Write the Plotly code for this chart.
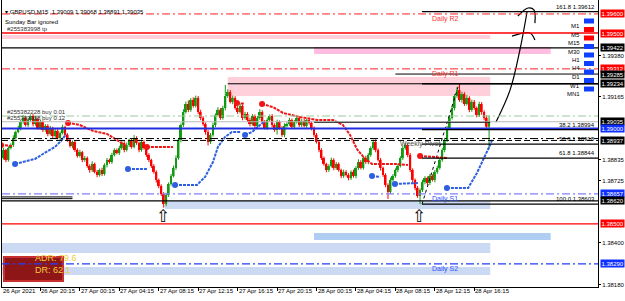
import plotly.graph_objects as go

# ---------------- data ----------------
TITLE = "GBPUSD,M15  1.39009 1.39068 1.38891 1.39035"
XTICK_BARS = [0, 16, 32, 48, 64, 80, 96, 112, 128, 144, 160, 176, 192]
XTICK_LABELS = ["26 Apr 2021", "26 Apr 20:15", "27 Apr 00:15", "27 Apr 04:15", "27 Apr 08:15",
                "27 Apr 12:15", "27 Apr 16:15", "27 Apr 20:15", "28 Apr 00:15", "28 Apr 04:15",
                "28 Apr 08:15", "28 Apr 12:15", "28 Apr 16:15"]

OPEN0 = 1.38820
CLOSES = [
    1.38845, 1.38887, 1.38835, 1.38897, 1.38913, 1.38950, 1.38981, 1.39002, 1.39034, 1.39055,
    1.39018, 1.39044, 1.39065, 1.39023, 1.39049, 1.39002, 1.39034, 1.38992, 1.39013, 1.38971,
    1.39002, 1.38960, 1.38987, 1.38950, 1.38976, 1.39008, 1.38966, 1.38939, 1.38908, 1.38929,
    1.38887, 1.38856, 1.38876, 1.38835, 1.38845, 1.38803, 1.38782, 1.38814, 1.38772, 1.38756,
    1.38782, 1.38761, 1.38808, 1.38835, 1.38824, 1.38861, 1.38887, 1.38871, 1.38897, 1.38924,
    1.38887, 1.38913, 1.38939, 1.38903, 1.38950, 1.38924, 1.38887, 1.38929, 1.38897, 1.38861,
    1.38835, 1.38803, 1.38772, 1.38730, 1.38698, 1.38656, 1.38604, 1.38651, 1.38709, 1.38751,
    1.38793, 1.38845, 1.38939, 1.39018, 1.39086, 1.39128, 1.39097, 1.39149, 1.39118, 1.39160,
    1.39086, 1.39055, 1.39023, 1.38981, 1.38929, 1.38966, 1.39018, 1.39070, 1.39097, 1.39055,
    1.39107, 1.39170, 1.39191, 1.39139, 1.39160, 1.39107, 1.39086, 1.39118, 1.39055, 1.39076,
    1.39044, 1.39023, 1.39065, 1.39013, 1.39055, 1.39086, 1.39034, 1.39002, 1.39044, 1.39065,
    1.39018, 1.38992, 1.39034, 1.39002, 1.38966, 1.39013, 1.39023, 1.39044, 1.39008, 1.39034,
    1.39055, 1.39018, 1.39039, 1.39013, 1.39044, 1.39029, 1.39002, 1.38966, 1.38929, 1.38887,
    1.38845, 1.38814, 1.38782, 1.38803, 1.38835, 1.38793, 1.38814, 1.38782, 1.38751, 1.38772,
    1.38756, 1.38740, 1.38772, 1.38751, 1.38793, 1.38824, 1.38793, 1.38845, 1.38824, 1.38861,
    1.38897, 1.38929, 1.38887, 1.38835, 1.38793, 1.38756, 1.38704, 1.38667, 1.38730, 1.38751,
    1.38782, 1.38803, 1.38845, 1.38897, 1.38913, 1.38861, 1.38782, 1.38730, 1.38688, 1.38646,
    1.38677, 1.38719, 1.38740, 1.38714, 1.38751, 1.38730, 1.38772, 1.38793, 1.38835, 1.38887,
    1.38939, 1.39002, 1.39055, 1.39107, 1.39170, 1.39201, 1.39149, 1.39180, 1.39128, 1.39160,
    1.39097, 1.39139, 1.39107, 1.39070, 1.39128, 1.39086, 1.39055, 1.39009, 1.39035]
# wick lengths in points (0.00001)
UP_WICK = [
    8, 12, 6, 10, 9, 14, 8, 12, 10, 15, 9, 12, 8, 10, 14, 6, 12, 8, 10, 9,
    11, 7, 10, 13, 8, 12, 6, 9, 10, 8, 7, 9, 12, 6, 10, 8, 9, 14, 7, 10,
    8, 12, 9, 10, 7, 11, 9, 8, 12, 10, 9, 13, 8, 10, 15, 9, 7, 12, 10, 8,
    9, 6, 10, 8, 7, 9, 10, 12, 8, 10, 12, 14, 10, 9, 15, 12, 18, 10, 14, 12,
    10, 12, 9, 8, 11, 10, 12, 9, 14, 10, 12, 58, 14, 10, 12, 9, 10, 14, 8, 11,
    9, 12, 10, 8, 11, 14, 9, 10, 12, 8, 10, 9, 12, 8, 10, 14, 9, 12, 8, 10,
    11, 9, 10, 12, 8, 10, 9, 8, 10, 7, 9, 8, 6, 10, 12, 9, 10, 8, 7, 12,
    9, 10, 8, 12, 9, 14, 10, 8, 12, 10, 9, 12, 14, 8, 10, 7, 9, 8, 12, 10,
    9, 12, 10, 14, 12, 8, 10, 9, 8, 10, 9, 12, 10, 8, 11, 9, 10, 12, 9, 10,
    12, 10, 14, 12, 10, 15, 33, 12, 10, 14, 9, 12, 10, 8, 12, 10, 9, 14, 33]
DN_WICK = [
    10, 8, 12, 9, 7, 10, 8, 6, 12, 9, 8, 10, 7, 12, 9, 10, 8, 11, 9, 12,
    8, 10, 9, 7, 12, 8, 10, 9, 8, 12, 10, 9, 8, 12, 10, 9, 14, 10, 8, 12,
    9, 10, 8, 12, 9, 10, 8, 7, 10, 9, 12, 8, 10, 9, 7, 10, 12, 9, 8, 10,
    12, 10, 9, 14, 12, 10, 19, 12, 10, 9, 8, 10, 9, 12, 10, 8, 12, 10, 9, 8,
    10, 12, 9, 14, 18, 10, 9, 12, 8, 10, 9, 12, 10, 8, 12, 9, 10, 8, 12, 9,
    10, 12, 8, 14, 9, 10, 12, 8, 10, 9, 12, 10, 24, 9, 10, 12, 8, 10, 9, 12,
    9, 10, 12, 8, 10, 9, 12, 10, 8, 12, 10, 9, 12, 10, 8, 12, 10, 9, 12, 10,
    8, 12, 10, 9, 12, 10, 8, 9, 10, 12, 9, 10, 12, 8, 14, 10, 12, 37, 10, 9,
    10, 12, 8, 10, 9, 12, 10, 14, 12, 10, 43, 10, 12, 9, 10, 8, 12, 10, 9, 10,
    12, 10, 9, 8, 12, 10, 9, 14, 10, 8, 12, 10, 9, 12, 10, 14, 12, 10, 118]

# full-width horizontal levels: price, colour, width, dash
FULL_PRICES = [1.39600, 1.39500, 1.39422, 1.39312, 1.39065, 1.39035, 1.39000, 1.38947, 1.38937,
               1.38657, 1.38620, 1.38500, 1.38290]
FULL_COLORS = ["#ff2020", "#ff0000", "#000000", "#ff2020", "#99cc99", "#b8b8b8", "#1f2fe0",
               "#000000", "#000000", "#8080ff", "#000000", "#ff0000", "#1f3fff"]
FULL_WIDTHS = [1, 1.3, 1.3, 1, 1.2, 1, 2, 1, 1, 1.2, 1.2, 1.3, 1.2]
FULL_DASH = ["8px,3px,2px,3px", "solid", "solid", "8px,3px,2px,3px", "8px,3px,2px,3px", "solid",
             "solid", "8px,3px,2px,3px", "6px,3px", "8px,3px,2px,3px", "solid", "solid",
             "8px,3px,2px,3px"]

# partial horizontal lines: start bar, end bar, price, colour, width
PART_X0 = [92, 160, 127, 0, 0]
PART_X1 = [242.2, 242.2, 198.5, 29, 29]
PART_PRICES = [1.39234, 1.39285, 1.39032, 1.38641, 1.38632]
PART_COLORS = ["#000000", "#000000", "#202020", "#000000", "#000000"]
PART_WIDTHS = [1, 1, 1, 1, 1]

# fibonacci
FIB_START = 170.8
FIB_LEVELS = ["0.0", "38.2", "50.0", "61.8", "100.0", "161.8"]
FIB_PRICES = [1.39234, 1.38994, 1.38918, 1.38844, 1.38603, 1.39612]
FIB_DIAG_X = [170.8, 185.8]
FIB_DIAG_Y = [1.38603, 1.39234]

# zones: x0 bar, x1 bar, price top, price bottom, colour
ZONE_X0 = [0, 127, 92, 66.5, 127, 0, 0]
ZONE_X1 = [198.5, 223, 198.5, 198.5, 223, 198.5, 198.5]
ZONE_TOP = [1.39490, 1.39427, 1.39270, 1.38620, 1.38452, 1.38400, 1.38274]
ZONE_BOT = [1.39469, 1.39390, 1.39170, 1.38578, 1.38415, 1.38347, 1.38232]
ZONE_COLORS = ["#ffd0dc", "#ffbde0", "#ffd0da", "#ccdaf4", "#b0cdf2", "#ccd9f3", "#ccd9f3"]

# trailing stop lines (bar, price)
RED_SEGS = [
    ([0, 4.9], [1.38913, 1.38908]),
    ([27.2, 32.0, 37.3, 43.0, 47.1, 50.7], [1.39029, 1.39018, 1.38987, 1.38971, 1.38939, 1.38908]),
    ([59.2, 69.8], [1.38903, 1.38903]),
    ([95.7, 98.5], [1.39133, 1.39130]),
    ([105.9, 110.3, 114.4, 121.3, 128.2, 134.7, 138.7, 141.6, 144.4, 147.7, 150.5, 154.6, 159.8, 165.1],
     [1.39128, 1.39112, 1.39081, 1.39060, 1.39044, 1.39044, 1.39018, 1.38966, 1.38892, 1.38840,
      1.38814, 1.38814, 1.38814, 1.38808]),
    ([170.0, 180.9], [1.38856, 1.38845]),
]
BLUE_SEGS = [
    ([5.7, 13.8, 17.0, 21.9, 24.7, 26.4], [1.38814, 1.38840, 1.38866, 1.38903, 1.38939, 1.38971]),
    ([51.5, 59.2], [1.38787, 1.38787]),
    ([70.6, 79.5, 82.8, 86.0, 88.0, 90.9, 93.7, 97.0],
     [1.38704, 1.38704, 1.38746, 1.38824, 1.38903, 1.38955, 1.38981, 1.38981]),
    ([99.0, 101.8, 105.1, 106.7], [1.38966, 1.38981, 1.39018, 1.39034]),
    ([150.5, 153.8], [1.38751, 1.38746]),
    ([159.8, 169.2], [1.38709, 1.38714]),
    ([180.9, 189.5, 193.1, 196.3, 198.4, 199.2], [1.38688, 1.38688, 1.38767, 1.38850, 1.38913, 1.38939]),
]

# hand drawn arrow
ARROW_X = [200.8, 206.5, 210.5, 213.4]
ARROW_Y = [1.39034, 1.39201, 1.39411, 1.39610]
HEAD1_X = [209.7, 213.8, 216.2, 216.6]
HEAD1_Y = [1.39589, 1.39631, 1.39621, 1.39552]
HEAD2_X = [207.3, 214.6, 216.6]
HEAD2_Y = [1.39484, 1.39500, 1.39463]

# up-arrow signals
SIG_X = [65.7, 169.6]
SIG_Y = [1.38541, 1.38541]

# right axis tags
TAG_PRICES = [1.39600, 1.39500, 1.39422, 1.39312, 1.39285, 1.39234, 1.39035, 1.39000, 1.38937,
              1.38657, 1.38620, 1.38500, 1.38290]
TAG_BG = ["#ff0000", "#ff0000", "#000000", "#ff0000", "#000000", "#000000", "#000000", "#1030ff",
          "#000000", "#1030ff", "#000000", "#ff0000", "#1030ff"]
PLAIN_TICKS = [1.39380, 1.39165, 1.38835, 1.38725, 1.38400, 1.38180]

# level texts
LEVEL_TEXTS = ["Daily R2", "Daily R1", "Weekly Pivot", "Daily S1", "Daily S2"]
LEVEL_TX = [174.2, 174.2, 161.0, 174.0, 174.0]
LEVEL_TY = [1.39571, 1.39283, 1.38918, 1.38630, 1.38264]
LEVEL_TC = ["#ff3030", "#ff3030", "#505050", "#3050ff", "#3050ff"]

ORDER_TEXTS = ["#255383998 tp", "#255382228 buy 0.01", "#255383998 buy 0.12"]
ORDER_PRICES = [1.39500, 1.39065, 1.39035]

TF_LABELS = ["M1", "M5", "M15", "M30", "H1", "H4", "D1", "W1", "MN1"]
TF_COLORS = ["#1040ff", "#ff0000", "#ff0000", "#1040ff", "#1040ff", "#1040ff", "#1040ff", "#1040ff", "#1040ff"]

ADR_TEXT = ["ADR: 79.6", "DR: 62.1"]

# ---------------- figure ----------------
W, H = 625, 301
L, R, T, B = 2, 27, 0, 14
PW, PH = W - L - R, H - T - B
XR = [0.406, 242.19]
YR = [1.38169, 1.39673]
FONT = "Liberation Sans"


def px(x):
    return (x - L) / PW


def py(y):
    return (PH - y) / PH


def bar_to_paper(b):
    return (b - XR[0]) / (XR[1] - XR[0])


opens = [OPEN0] + CLOSES[:-1]
highs = [max(o, c) + u / 1e5 for o, c, u in zip(opens, CLOSES, UP_WICK)]
lows = [min(o, c) - d / 1e5 for o, c, d in zip(opens, CLOSES, DN_WICK)]
idx = list(range(len(CLOSES)))

fig = go.Figure()
shapes = []
ann = []

# zones
for x0, x1, t, b, c in zip(ZONE_X0, ZONE_X1, ZONE_TOP, ZONE_BOT, ZONE_COLORS):
    shapes.append(dict(type="rect", xref="x", yref="y", x0=x0, x1=x1, y0=b, y1=t,
                       fillcolor=c, line=dict(width=0), layer="below"))

# ADR box
shapes.append(dict(type="rect", xref="paper", yref="paper", x0=px(4), x1=px(63), y0=py(281), y1=py(257),
                   fillcolor="#8e1616", line=dict(color="#c83030", width=2), layer="above"))

# candles
up_x, up_y, dn_x, dn_y = [], [], [], []
for i, o, c, h, l in zip(idx, opens, CLOSES, highs, lows):
    if c >= o:
        up_x += [i, i, None]; up_y += [l, h, None]
    else:
        dn_x += [i, i, None]; dn_y += [l, h, None]
fig.add_trace(go.Scatter(x=up_x, y=up_y, mode="lines", line=dict(color="#139a13", width=1), hoverinfo="skip"))
fig.add_trace(go.Scatter(x=dn_x, y=dn_y, mode="lines", line=dict(color="#ff0000", width=1), hoverinfo="skip"))
body_base = [min(o, c) for o, c in zip(opens, CLOSES)]
body_h = [max(abs(c - o), 0.00002) for o, c in zip(opens, CLOSES)]
body_col = ["#139a13" if c >= o else "#ff0000" for o, c in zip(opens, CLOSES)]
fig.add_trace(go.Bar(x=idx, y=body_h, base=body_base, width=0.8, marker=dict(color=body_col, line=dict(width=0)),
                     hoverinfo="skip"))

# full-width lines
for p, c, w, d in zip(FULL_PRICES, FULL_COLORS, FULL_WIDTHS, FULL_DASH):
    shapes.append(dict(type="line", xref="paper", yref="y", x0=0, x1=1, y0=p, y1=p,
                       line=dict(color=c, width=w, dash=d), layer="above"))
for x0, x1, p, c, w in zip(PART_X0, PART_X1, PART_PRICES, PART_COLORS, PART_WIDTHS):
    shapes.append(dict(type="line", xref="x", yref="y", x0=x0, x1=x1, y0=p, y1=p,
                       line=dict(color=c, width=w), layer="above"))
for lv, p in zip(FIB_LEVELS, FIB_PRICES):
    shapes.append(dict(type="line", xref="x", yref="y", x0=FIB_START, x1=XR[1], y0=p, y1=p,
                       line=dict(color="#000000", width=1.5 if lv == "0.0" else 1.2), layer="above"))
    if lv != "0.0":
        ann.append(dict(x=px(597), xref="paper", y=p, yref="y", text=f"{lv} {p:.5f}", showarrow=False,
                        xanchor="right", yanchor="bottom", font=dict(size=6, color="#000000", family=FONT)))

fig.add_trace(go.Scatter(x=FIB_DIAG_X, y=FIB_DIAG_Y, mode="lines",
                         line=dict(color="#000000", width=1, dash="dot"), hoverinfo="skip"))

# trailing lines
for segs, col in ((RED_SEGS, "#f01414"), (BLUE_SEGS, "#2d5fe0")):
    for xs, ys in segs:
        fig.add_trace(go.Scatter(x=xs, y=ys, mode="lines", line=dict(color=col, width=2, dash="3px,1px"),
                                 hoverinfo="skip"))
        fig.add_trace(go.Scatter(x=[xs[0]], y=[ys[0]], mode="markers", marker=dict(color=col, size=6),
                                 hoverinfo="skip"))

# hand drawn arrow
for xs, ys in ((ARROW_X, ARROW_Y), (HEAD1_X, HEAD1_Y), (HEAD2_X, HEAD2_Y)):
    fig.add_trace(go.Scatter(x=xs, y=ys, mode="lines", line=dict(color="#000000", width=1.2, shape="spline"),
                             hoverinfo="skip"))

# signal arrows
for sx, sy in zip(SIG_X, SIG_Y):
    ann.append(dict(x=sx, y=sy, xref="x", yref="y", text="⇧", showarrow=False,
                    font=dict(size=17, color="#000000", family="DejaVu Sans")))

# right axis tags
for p, bg in zip(TAG_PRICES, TAG_BG):
    ann.append(dict(x=1, xref="paper", y=p, yref="y", text=f"{p:.5f}", showarrow=False, xanchor="left",
                    xshift=2, bgcolor=bg, borderpad=0.5,
                    font=dict(size=6, color="#ffffff", family=FONT)))

# level texts
for t, x, y, c in zip(LEVEL_TEXTS, LEVEL_TX, LEVEL_TY, LEVEL_TC):
    ann.append(dict(x=x, y=y, xref="x", yref="y", text=t, showarrow=False, xanchor="left",
                    font=dict(size=7, color=c, family=FONT)))

for t, p in zip(ORDER_TEXTS, ORDER_PRICES):
    ann.append(dict(x=px(5), xref="paper", y=p, yref="y", text=t, showarrow=False, xanchor="left",
                    yanchor="bottom", yshift=-1, font=dict(size=6, color="#303030", family=FONT)))

# title and notes
ann.append(dict(x=px(3), y=py(7), xref="paper", yref="paper", text="▾ " + TITLE, showarrow=False,
                xanchor="left", font=dict(size=6, color="#000000", family=FONT)))
ann.append(dict(x=px(3), y=py(17), xref="paper", yref="paper", text="Sunday Bar ignored", showarrow=False,
                xanchor="left", font=dict(size=6, color="#000000", family=FONT)))

# timeframe panel
for k, (lab, c) in enumerate(zip(TF_LABELS, TF_COLORS)):
    yy = 21 + k * 8.5
    ann.append(dict(x=px(582), y=py(yy), xref="paper", yref="paper", text=lab, showarrow=False,
                    xanchor="right", font=dict(size=6, color="#000000", family=FONT)))
    shapes.append(dict(type="rect", xref="paper", yref="paper", x0=px(584), x1=px(594),
                       y0=py(yy + 2.5), y1=py(yy - 2.5), fillcolor=c, line=dict(width=0), layer="above"))

# ADR text
for k, t in enumerate(ADR_TEXT):
    ann.append(dict(x=px(33), y=py(265 + k * 11.5), xref="paper", yref="paper", text=t, showarrow=False,
                    font=dict(size=9, color="#f0cc40", family=FONT)))

# x tick labels
for b, t in zip(XTICK_BARS, XTICK_LABELS):
    ann.append(dict(x=max(bar_to_paper(b), 0), xref="paper", y=py(295.5), yref="paper", text=t, showarrow=False,
                    xanchor="left", xshift=-1, font=dict(size=6, color="#000000", family=FONT)))

fig.update_layout(
    width=W, height=H, margin=dict(l=L, r=R, t=T, b=B),
    paper_bgcolor="#ffffff", plot_bgcolor="#ffffff", showlegend=False,
    shapes=shapes, annotations=ann, barmode="overlay",
    xaxis=dict(range=XR, showgrid=False, zeroline=False, showline=True, linecolor="#000000", linewidth=1,
               tickvals=XTICK_BARS, ticks="outside", ticklen=3, tickcolor="#000000", showticklabels=False),
    yaxis=dict(range=YR, side="right", showgrid=False, zeroline=False, showline=True, mirror=True,
               linecolor="#000000", linewidth=1, tickvals=PLAIN_TICKS, ticktext=[f"{v:.5f}" for v in PLAIN_TICKS],
               ticks="outside", ticklen=2, tickcolor="#000000",
               tickfont=dict(size=6, color="#000000", family=FONT)),
)

fig.write_html("out.html")
